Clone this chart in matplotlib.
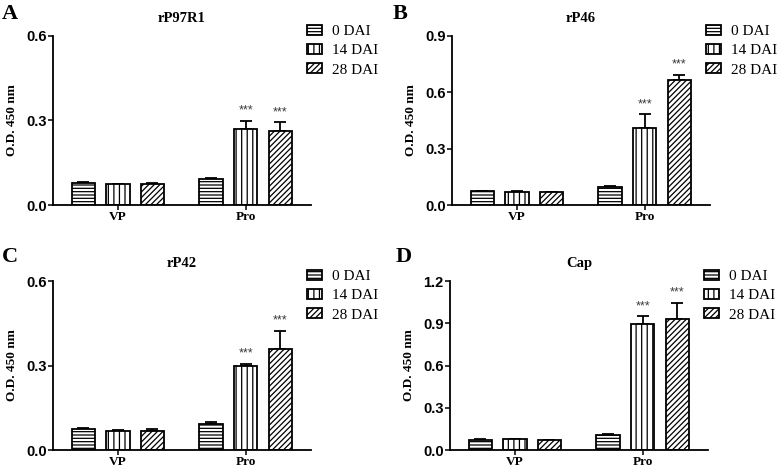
import numpy as np
import matplotlib.pyplot as plt

plt.rcParams['hatch.linewidth'] = 0.9

groups = ['VP', 'Pro']
series = ['0 DAI', '14 DAI', '28 DAI']
hatches = ['-----', '|||', '//////']

titles = ['rP97R1', 'rP46', 'rP42', 'Cap']
letters = ['A', 'B', 'C', 'D']

# means, rows = series (0, 14, 28 DAI), cols = groups (VP, Pro)
mean_A = np.array([[0.077, 0.093], [0.073, 0.270], [0.075, 0.264]])
err_A = np.array([[0.006, 0.004], [0.003, 0.029], [0.002, 0.030]])
mean_B = np.array([[0.072, 0.097], [0.069, 0.408], [0.069, 0.668]])
err_B = np.array([[0.004, 0.002], [0.003, 0.075], [0.002, 0.024]])
mean_C = np.array([[0.074, 0.092], [0.068, 0.297], [0.069, 0.360]])
err_C = np.array([[0.003, 0.008], [0.002, 0.008], [0.004, 0.064]])
mean_D = np.array([[0.071, 0.107], [0.076, 0.898], [0.069, 0.930]])
err_D = np.array([[0.007, 0.009], [0.004, 0.050], [0.003, 0.114]])

means = [mean_A, mean_B, mean_C, mean_D]
errs = [err_A, err_B, err_C, err_D]
ymax = [0.6, 0.9, 0.6, 1.2]
yticks = [[0.0, 0.3, 0.6], [0.0, 0.3, 0.6, 0.9], [0.0, 0.3, 0.6], [0.0, 0.3, 0.6, 0.9, 1.2]]
stars = [[False, True, True]] * 4  # only Pro group, 14 and 28 DAI

W, H = 778, 469
boxes = [(53, 205), (452, 205), (53, 450), (450, 450)]
letter_pos = [(2, 4), (393, 4), (2, 247), (396, 247)]

serif = 'Liberation Serif'
sans = 'Liberation Sans'

fig = plt.figure(figsize=(W / 100, H / 100), dpi=100)

gx = np.array([0.0, 3.7])
off = [-1, 0, 1]
bw = 0.68

for i in range(4):
	x0, yb = boxes[i]
	ax = fig.add_axes([x0 / W, 1 - yb / H, 258 / W, 169 / H])
	m = means[i]
	e = errs[i]
	hs = []
	for s in range(3):
		xs = gx + off[s]
		ax.errorbar(xs, m[s], yerr=[np.zeros(2), e[s]], fmt='none', ecolor='black',
			elinewidth=1.3, capsize=4.5, capthick=1.3, zorder=1)
		b = ax.bar(xs, m[s], width=bw, color='white', edgecolor='black', linewidth=1.3,
			hatch=hatches[s], zorder=2, label=series[s])
		hs.append(b)
		if stars[i][s]:
			ax.annotate('***', (xs[1], m[s][1] + e[s][1]), xytext=(0, 3),
				textcoords='offset points', ha='center', va='bottom',
				fontsize=9, color='#3a3a3a', fontfamily=sans)
	ax.set_xlim(-1.88, 5.59)
	ax.set_ylim(0, ymax[i])
	ax.set_yticks(yticks[i])
	ax.set_yticklabels(['%.1f' % t for t in yticks[i]], fontfamily=sans,
		fontweight='bold', fontsize=10.5)
	ax.set_xticks(gx)
	ax.set_xticklabels(groups, fontfamily=serif, fontweight='bold', fontsize=9.5)
	ax.tick_params(axis='y', length=3.5, width=1.1, direction='out', pad=1)
	ax.tick_params(axis='x', length=3.5, width=1.1, direction='out', pad=1)
	for sp in ['top', 'right']:
		ax.spines[sp].set_visible(False)
	for sp in ['left', 'bottom']:
		ax.spines[sp].set_linewidth(1.3)
	ax.set_ylabel('O.D. 450 nm', fontfamily=serif, fontweight='bold', fontsize=9.5)
	ax.yaxis.set_label_coords(-0.135, 0.5)
	ax.set_title(titles[i], fontfamily=serif, fontweight='bold', fontsize=10.5, pad=10)
	ax.legend(handles=hs, loc='upper left', bbox_to_anchor=((x0 + 254) / W, 1 - (yb - 180) / H),
		bbox_transform=fig.transFigure, frameon=False, borderpad=0, borderaxespad=0,
		handlelength=0.95, handleheight=0.62, handletextpad=0.7, labelspacing=0.38,
		prop={'family': serif, 'size': 11})
	lx, ly = letter_pos[i]
	fig.text(lx / W, 1 - ly / H, letters[i], fontfamily=serif, fontweight='bold',
		fontsize=16, va='top', ha='left')

plt.savefig('out.png', dpi=100)
